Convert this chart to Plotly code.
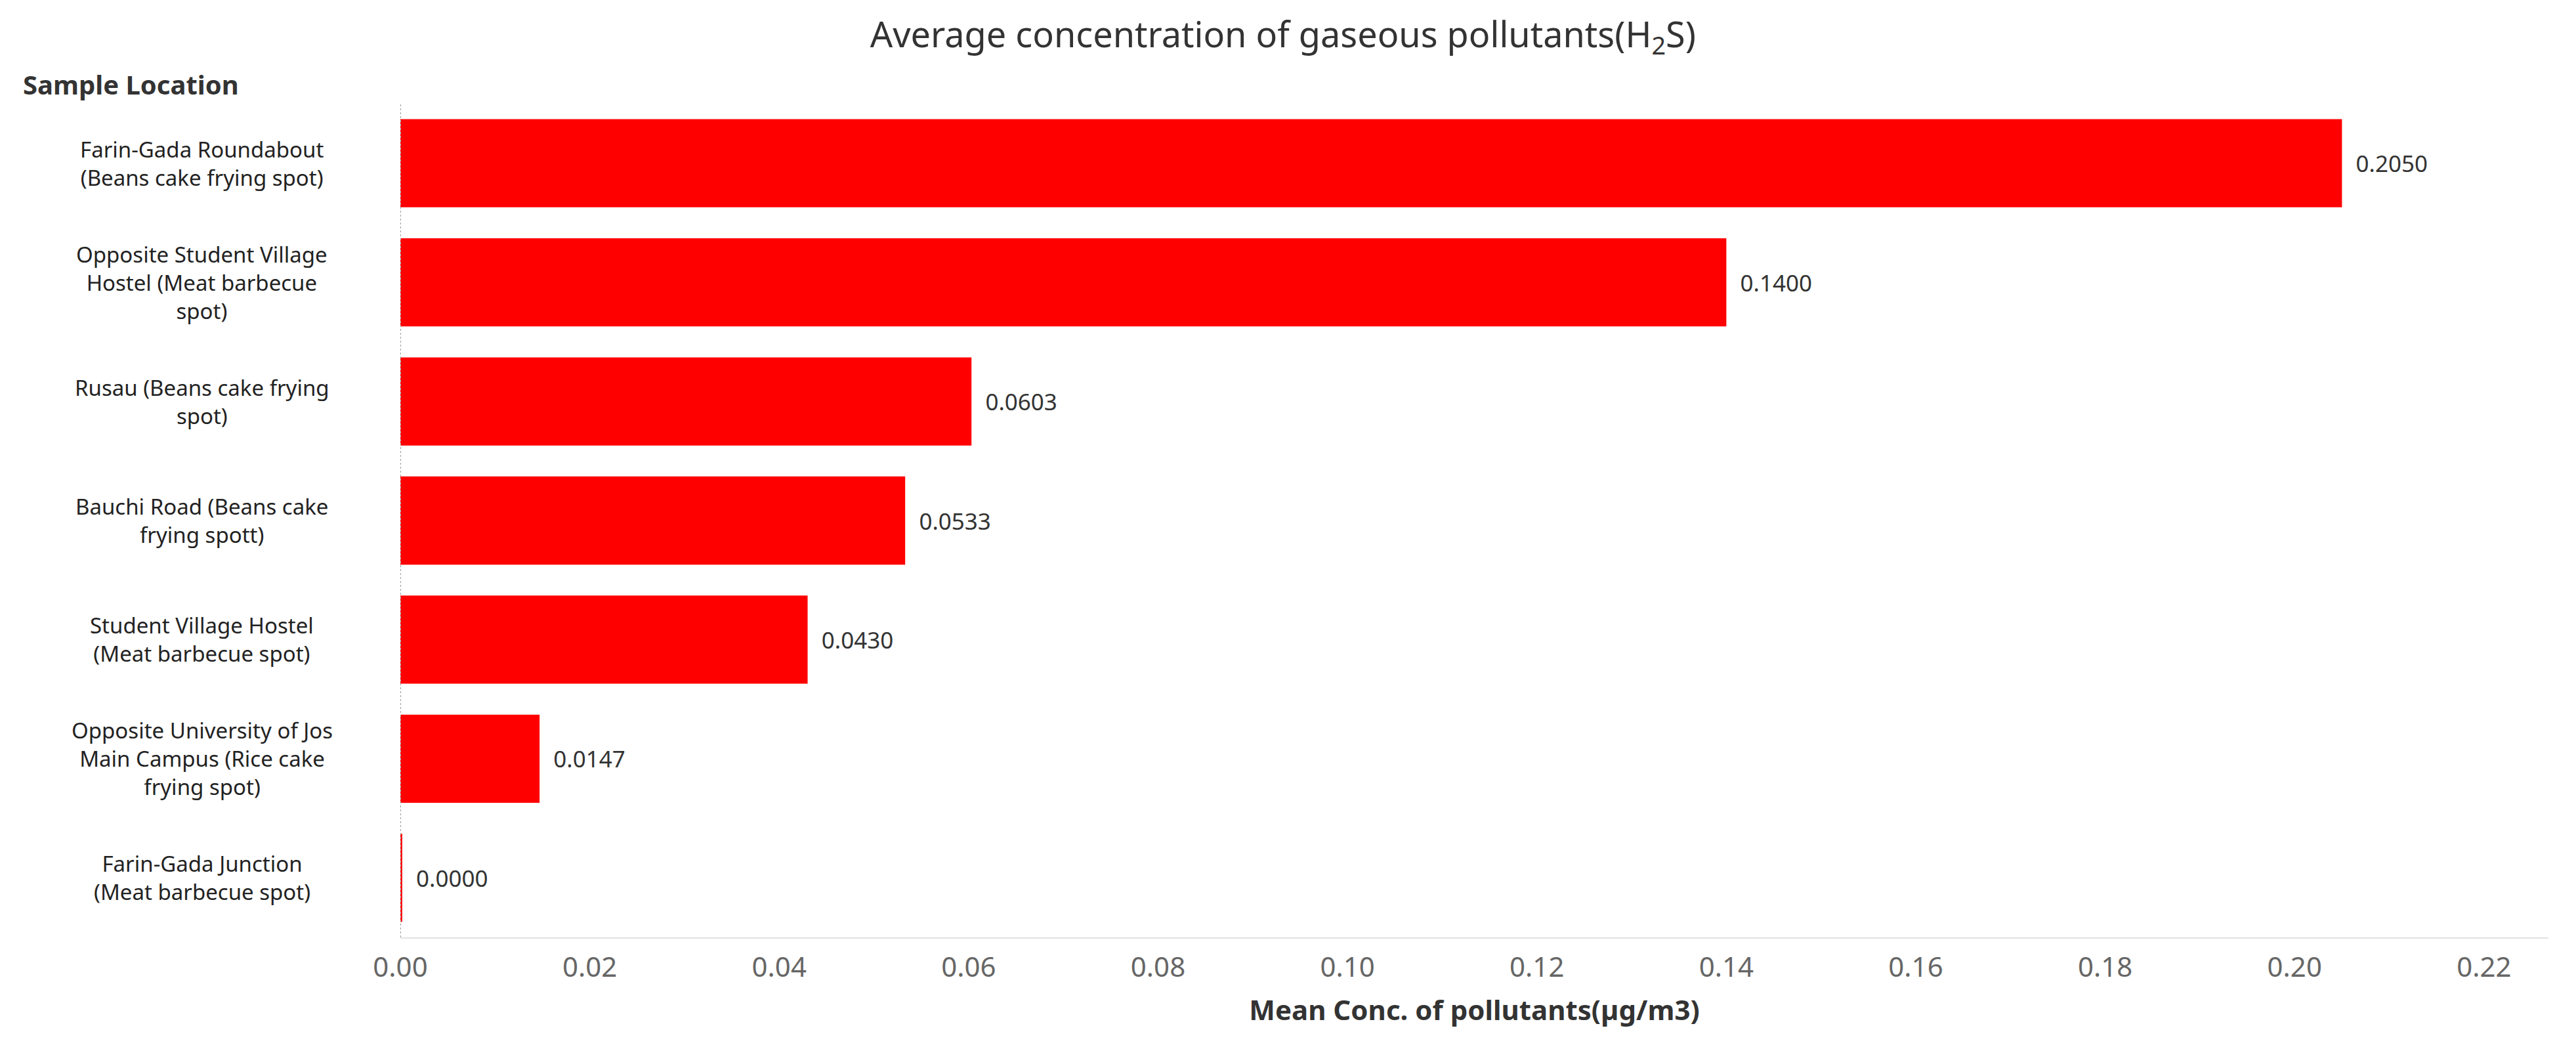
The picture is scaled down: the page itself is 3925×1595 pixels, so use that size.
import plotly.graph_objects as go

locations = [
    "Farin-Gada Roundabout<br>(Beans cake frying spot)",
    "Opposite Student Village<br>Hostel (Meat barbecue<br>spot)",
    "Rusau (Beans cake frying<br>spot)",
    "Bauchi Road (Beans cake<br>frying spott)",
    "Student Village Hostel<br>(Meat barbecue spot)",
    "Opposite University of Jos<br>Main Campus (Rice cake<br>frying spot)",
    "Farin-Gada Junction<br>(Meat barbecue spot)",
]
values = [0.2050, 0.1400, 0.0603, 0.0533, 0.0430, 0.0147, 0.0002]
labels = ["0.2050", "0.1400", "0.0603", "0.0533", "0.0430", "0.0147", "0.0000"]
ticks = [0.00, 0.02, 0.04, 0.06, 0.08, 0.10, 0.12, 0.14, 0.16, 0.18, 0.20, 0.22]

W, H = 3925, 1595
L, R, T, B = 602, 50, 150, 175
FONT = "Noto Sans"

fig = go.Figure(go.Bar(
    x=values, y=list(range(len(values))), orientation="h",
    marker=dict(color="#FF0000", line=dict(width=0)),
    width=0.74,
    text=["  " + s for s in labels], textposition="outside", cliponaxis=False,
    textfont=dict(family=FONT, size=35, color="#333333"),
))

ann = []
for i, loc in enumerate(locations):
    ann.append(dict(x=-0.0923, xref="paper", y=i, yref="y", text=loc,
                    showarrow=False, xanchor="center", align="center",
                    font=dict(family=FONT, size=33, color="#222222")))
ann.append(dict(x=-(L - 25) / (W - L - R), xref="paper",
                y=1 + (T - 120) / (H - T - B), yref="paper",
                text="<b>Sample Location</b>", showarrow=False,
                xanchor="left", yanchor="middle",
                font=dict(family=FONT, size=40, color="#333333")))

fig.update_layout(
    width=W, height=H,
    margin=dict(l=L, r=R, t=T, b=B),
    paper_bgcolor="white", plot_bgcolor="white",
    showlegend=False,
    title=dict(text="Average concentration of gaseous pollutants(H<sub>2</sub>S)",
               x=0.496, xanchor="center", y=1 - 45 / H, yanchor="middle",
               font=dict(family=FONT, size=54, color="#333333")),
    annotations=ann,
)
fig.update_xaxes(range=[0, 0.2268], tickvals=ticks,
                 ticktext=[f"{t:.2f}" for t in ticks],
                 tickfont=dict(family=FONT, size=42, color="#666666"),
                 showgrid=False, zeroline=False,
                 showline=True, linecolor="#E3E3E3", linewidth=2,
                 ticks="", ticklabelstandoff=8,
                 title=dict(text="<b>Mean Conc. of pollutants(µg/m3)</b>",
                            font=dict(family=FONT, size=42, color="#333333"),
                            standoff=25))
fig.update_yaxes(range=[6.5, -0.5], showticklabels=False, showgrid=False,
                 zeroline=False, showline=False)
fig.add_shape(type="line", xref="x", yref="paper", x0=0, x1=0, y0=0, y1=1,
              line=dict(color="#999999", width=2, dash="dot"))

fig.write_html("out.html")
